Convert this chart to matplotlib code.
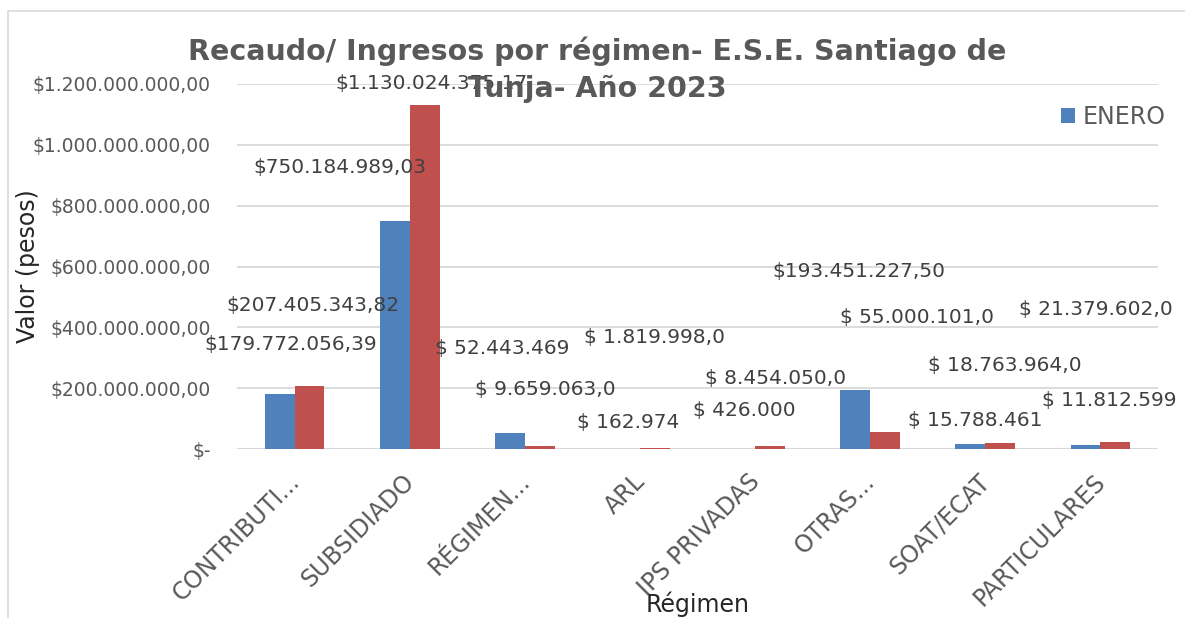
import matplotlib
matplotlib.use("Agg")
import matplotlib.pyplot as plt
from matplotlib.patches import Rectangle
from matplotlib.ticker import FuncFormatter
from matplotlib.transforms import ScaledTranslation
import numpy as np

categorias = ["CONTRIBUTI...", "SUBSIDIADO", "RÉGIMEN...", "ARL",
              "IPS PRIVADAS", "OTRAS...", "SOAT/ECAT", "PARTICULARES"]
enero = [179772056.39, 750184989.03, 52443469, 162974,
         426000, 193451227.50, 15788461, 11812599]
serie2 = [207405343.82, 1130024375.17, 9659063.0, 1819998.0,
          8454050.0, 55000101.0, 18763964.0, 21379602.0]
etiq_enero = ["$179.772.056,39", "$750.184.989,03", "$ 52.443.469", "$ 162.974",
              "$ 426.000", "$193.451.227,50", "$ 15.788.461", "$ 11.812.599"]
etiq_serie2 = ["$207.405.343,82", "$1.130.024.375,17", "$ 9.659.063,0", "$ 1.819.998,0",
               "$ 8.454.050,0", "$ 55.000.101,0", "$ 18.763.964,0", "$ 21.379.602,0"]

# where the (manually moved) data labels sit: offset from category centre, height
pos_enero_dx = [-0.03, -0.61, -0.20, -0.10, -0.09, -0.10, -0.09, 0.08]
pos_enero_y = [0.342e9, 0.924e9, 0.329e9, 0.0855e9, 0.125e9, 0.582e9, 0.095e9, 0.161e9]
pos_s2_dx = [0.16, 0.19, 0.18, 0.13, 0.18, 0.41, 0.17, -0.04]
pos_s2_y = [0.473e9, 1.203e9, 0.194e9, 0.368e9, 0.233e9, 0.431e9, 0.273e9, 0.457e9]

AZUL = "#4F81BD"
ROJO = "#C0504D"
GRIS = "#595959"

fig = plt.figure(figsize=(11.85, 6.18), dpi=100)
fig.patches.append(Rectangle((8 / 1185, -0.1), 1.2, 1 - 11 / 618 + 0.1,
                             transform=fig.transFigure, fill=False,
                             edgecolor="#D9D9D9", lw=1.2))
ax = fig.add_axes([237 / 1185, 1 - 449 / 618, (1158 - 237) / 1185, 365 / 618])

x = np.arange(len(categorias))
w = 0.26
ax.bar(x - w / 2, enero, w, color=AZUL, label="ENERO", zorder=3)
ax.bar(x + w / 2, serie2, w, color=ROJO, zorder=3)

for i in range(len(categorias)):
    ax.text(x[i] + pos_enero_dx[i], pos_enero_y[i], etiq_enero[i], ha="center",
            va="center", fontsize=14.5, color="#404040", zorder=4)
    ax.text(x[i] + pos_s2_dx[i], pos_s2_y[i], etiq_serie2[i], ha="center",
            va="center", fontsize=14.5, color="#404040", zorder=4)

ax.set_xlim(-0.5, len(categorias) - 0.5)
ax.set_ylim(0, 1.2e9)
ax.set_yticks(np.arange(0, 1.2e9 + 1, 2e8))


def fmt(v, p):
    if v == 0:
        return "$-"
    s = "{:,.2f}".format(v).replace(",", "X").replace(".", ",").replace("X", ".")
    return "$" + s


ax.yaxis.set_major_formatter(FuncFormatter(fmt))
ax.grid(axis="y", color="#D9D9D9", lw=1.3, zorder=0)
for s in ax.spines.values():
    s.set_visible(False)
ax.axhline(0, color="#D9D9D9", lw=1.3, zorder=2)
ax.tick_params(axis="y", length=0, labelsize=13.5, labelcolor=GRIS, pad=19)
ax.tick_params(axis="x", length=0, pad=20.5)

ax.set_xticks(x)
ax.set_xticklabels(categorias, rotation=45, ha="right", va="center",
                   rotation_mode="anchor", fontsize=17, color=GRIS)
shift = ScaledTranslation(1 / 100, 0, fig.dpi_scale_trans)
for lab in ax.get_xticklabels():
    lab.set_transform(lab.get_transform() + shift)

ax.set_ylabel("Valor (pesos)", fontsize=17, color="#262626")
ax.yaxis.set_label_coords((28 - 237) / 921, 0.5)
ax.yaxis.label.set_va("center")
ax.set_xlabel("Régimen", fontsize=17, color="#262626")
ax.xaxis.set_label_coords(0.5, (449 - 604) / 365)
ax.xaxis.label.set_va("center")

fig.text(597 / 1185, 1 - 70 / 618,
         "Recaudo/ Ingresos por régimen- E.S.E. Santiago de\nTunja- Año 2023",
         ha="center", va="center", fontsize=20.5, fontweight="bold", color=GRIS,
         linespacing=1.42)

leg = ax.legend(loc="center left", bbox_to_anchor=(1061 / 1185, 1 - 117 / 618),
                bbox_transform=fig.transFigure, frameon=False, fontsize=17,
                handlelength=0.6, handleheight=0.6, handletextpad=0.3,
                borderaxespad=0, borderpad=0)
for t in leg.get_texts():
    t.set_color(GRIS)

plt.savefig("out.png", dpi=100)
